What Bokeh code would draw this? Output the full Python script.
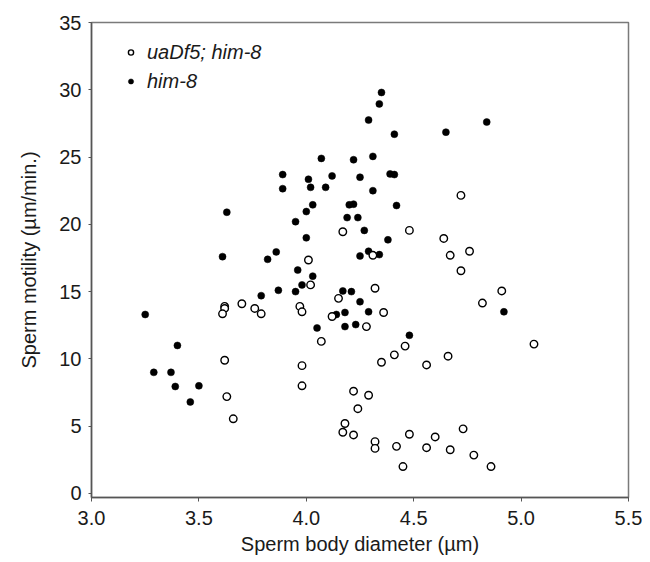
from bokeh.plotting import figure
from bokeh.models import (Range1d, FixedTicker, NumeralTickFormatter, Legend, LegendItem,
                          ColumnDataSource)
from bokeh.embed import file_html
from bokeh.resources import INLINE

# him-8 (filled)
him8_x = [3.25, 3.40, 3.29, 3.37, 3.39, 3.50, 3.46, 3.63, 3.61, 3.79, 3.82, 3.86, 3.87,
          4.35, 4.34, 4.29, 4.41, 4.65, 4.84, 4.07, 4.22, 4.31, 3.89, 4.01, 4.12, 4.25,
          4.39, 4.41, 3.89, 4.02, 4.09, 4.31, 4.03, 4.20, 4.22, 4.42, 4.00, 3.95, 4.19,
          4.24, 4.00, 4.27, 4.38, 4.25, 4.29, 4.34, 3.96, 4.03, 3.95, 3.98, 4.17, 4.21,
          4.25, 4.14, 4.18, 4.29, 4.05, 4.18, 4.23, 4.48, 4.92]
him8_y = [13.3, 11.0, 9.0, 9.0, 7.95, 8.0, 6.8, 20.9, 17.6, 14.7, 17.4, 17.95, 15.1,
          29.8, 28.95, 27.75, 26.7, 26.85, 27.6, 24.9, 24.8, 25.05, 23.7, 23.35, 23.6, 23.5,
          23.75, 23.7, 22.65, 22.75, 22.75, 22.5, 21.45, 21.45, 21.5, 21.4, 20.95, 20.2, 20.5,
          20.5, 19.0, 19.55, 18.85, 17.65, 18.0, 17.75, 16.6, 16.15, 15.0, 15.5, 15.05, 15.0,
          14.25, 13.3, 13.45, 13.5, 12.3, 12.4, 12.55, 11.75, 13.5]

# uaDf5; him-8 (open)
uadf5_x = [3.62, 3.62, 3.61, 3.70, 3.76, 3.79, 3.62, 3.63, 3.66, 4.17, 4.48, 4.64, 4.72,
           4.31, 4.67, 4.76, 4.72, 4.01, 4.02, 4.32, 4.15, 3.97, 3.98, 4.12, 4.36, 4.28,
           4.07, 4.46, 4.41, 4.35, 4.56, 4.66, 3.98, 3.98, 4.22, 4.29, 4.24, 4.18, 4.17,
           4.22, 4.32, 4.32, 4.42, 4.48, 4.45, 4.56, 4.60, 4.67, 4.73, 4.78, 4.86, 4.91,
           4.82, 5.06]
uadf5_y = [13.9, 13.75, 13.35, 14.1, 13.75, 13.35, 9.9, 7.2, 5.55, 19.45, 19.55, 18.95, 22.15,
           17.7, 17.7, 18.0, 16.55, 17.35, 15.5, 15.25, 14.5, 13.9, 13.5, 13.15, 13.45, 12.4,
           11.3, 10.95, 10.3, 9.75, 9.55, 10.2, 9.5, 8.0, 7.6, 7.3, 6.3, 5.2, 4.55,
           4.35, 3.85, 3.35, 3.5, 4.4, 2.0, 3.4, 4.2, 3.25, 4.8, 2.85, 2.0, 15.05,
           14.15, 11.1]

x_ticks = [3.0, 3.5, 4.0, 4.5, 5.0, 5.5]
y_ticks = [0, 5, 10, 15, 20, 25, 30, 35]

FONT = "Liberation Sans"
TXT = "#1a1a1a"

p = figure(width=642, height=561, output_backend="svg", toolbar_location=None,
           x_range=Range1d(3.0, 5.5), y_range=Range1d(-0.3, 35),
           min_border_left=91, min_border_right=14, min_border_top=22, min_border_bottom=64)

p.background_fill_color = "white"
p.border_fill_color = "white"
p.outline_line_color = "#7a7a7a"
p.outline_line_width = 1.5
p.xgrid.visible = False
p.ygrid.visible = False

for ax in (p.xaxis[0], p.yaxis[0]):
    ax.axis_line_color = "#555555"
    ax.axis_line_width = 1.5
    ax.major_tick_line_color = "#555555"
    ax.major_tick_in = 0
    ax.minor_tick_line_color = None
    ax.major_label_text_font = FONT
    ax.major_label_text_font_size = "20px"
    ax.major_label_text_color = TXT
    ax.axis_label_text_font = FONT
    ax.axis_label_text_font_size = "20px"
    ax.axis_label_text_font_style = "normal"
    ax.axis_label_text_color = TXT

p.xaxis.ticker = FixedTicker(ticks=x_ticks)
p.xaxis.formatter = NumeralTickFormatter(format="0.0")
p.xaxis.major_tick_out = 4
p.xaxis.major_label_standoff = 9
p.xaxis.axis_label = "Sperm body diameter (µm)"
p.xaxis.axis_label_standoff = 5

p.yaxis.ticker = FixedTicker(ticks=y_ticks)
p.yaxis.major_tick_out = 3
p.yaxis.major_label_standoff = 7
p.yaxis.axis_label = "Sperm motility (µm/min.)"
p.yaxis.axis_label_standoff = 16

src_f = ColumnDataSource(dict(x=him8_x, y=him8_y))
src_o = ColumnDataSource(dict(x=uadf5_x, y=uadf5_y))

r_f = p.scatter("x", "y", source=src_f, size=7, marker="circle",
                fill_color="black", line_color="black", line_width=0.5)
r_o = p.scatter("x", "y", source=src_o, size=7.5, marker="circle",
                fill_color="white", line_color="black", line_width=1.4)

legend = Legend(items=[LegendItem(label="uaDf5; him-8", renderers=[r_o]),
                       LegendItem(label="him-8", renderers=[r_f])],
                location=(33, 404), padding=0, margin=0, spacing=5,
                glyph_width=13, glyph_height=24, label_height=24, label_standoff=10,
                label_text_font=FONT, label_text_font_size="20px",
                label_text_font_style="italic", label_text_color=TXT,
                border_line_color=None, background_fill_alpha=0)
p.add_layout(legend)

open("out.html", "w").write(file_html(p, INLINE))
